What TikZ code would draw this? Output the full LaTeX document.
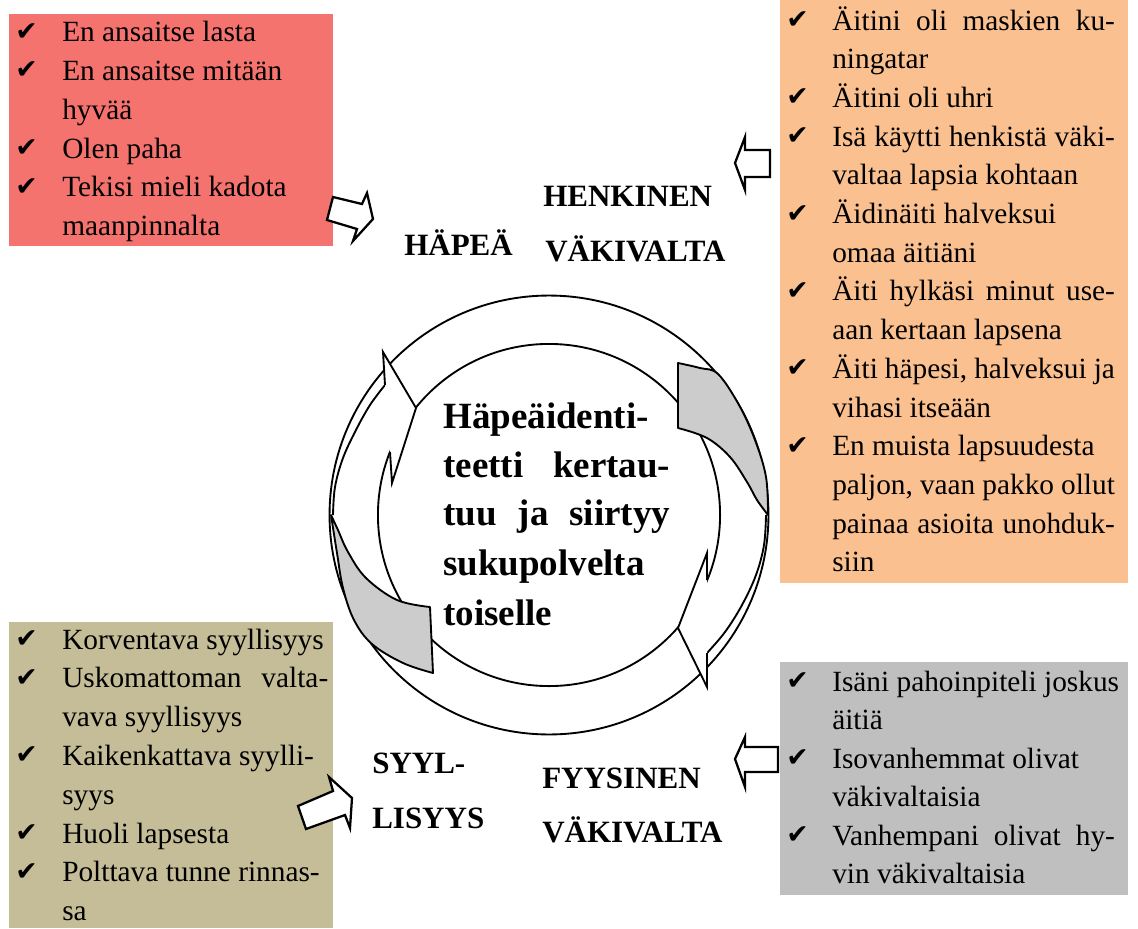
\documentclass[tikz,border=0pt]{standalone}
\usepackage{fontspec}
\setmainfont{Liberation Serif}
\newfontfamily\chkfont{DejaVu Sans}
\definecolor{boxred}{RGB}{245,115,110}
\definecolor{boxorange}{RGB}{250,192,144}
\definecolor{boxkhaki}{RGB}{196,189,151}
\definecolor{boxgray}{RGB}{191,191,191}
\definecolor{ringgray}{RGB}{204,204,204}
\newcommand{\jl}[1]{\makebox[212pt][s]{#1}}
\newcommand{\ck}{✔}
\begin{document}
\begin{tikzpicture}[x=0.75pt,y=-0.75pt,
  boxtxt/.style={anchor=base west,inner sep=0pt,font=\fontsize{22}{26}\selectfont},
  chk/.style={anchor=base west,inner sep=0pt,font=\chkfont\fontsize{20}{22}\selectfont},
  lbl/.style={anchor=base west,inner sep=0pt,font=\bfseries\fontsize{23.25}{28}\selectfont},
  ctr/.style={anchor=base west,inner sep=0pt,font=\bfseries\fontsize{27.75}{32}\selectfont},
  ring/.style={draw=black,line width=1.4pt},
  graypart/.style={draw=black,fill=ringgray,line width=1.4pt,line join=round},
  headpart/.style={draw=black,line width=1.4pt,line join=miter},
  blockarrow/.style={draw=black,fill=white,line width=1.7pt,line join=miter}]
\useasboundingbox (0,0) rectangle (1138,928);

% coloured boxes
\fill[boxred] (9,14) rectangle (333,246);
\fill[boxorange] (780,0) rectangle (1128,583);
\fill[boxkhaki] (9,622) rectangle (333,928);
\fill[boxgray] (780,662) rectangle (1128,895);

% red box text
\foreach \t [count=\i] in {{En ansaitse lasta},{En ansaitse mitään},{hyvää},{Olen paha},{Tekisi mieli kadota},{maanpinnalta}}
  \node[boxtxt] (rd\i) at (62,{41.7+(\i-1)*38.8}) {\t};
\foreach \i in {1,2,4,5}
  \node[chk] (rdc\i) at (15,{40+(\i-1)*38.8}) {\ck};

% orange box text
\foreach \t [count=\i] in {{\jl{Äitini oli maskien ku-}},{ningatar},{Äitini oli uhri},{\jl{Isä käytti henkistä väki-}},{valtaa lapsia kohtaan},{Äidinäiti halveksui},{omaa äitiäni},{\jl{Äiti hylkäsi minut use-}},{aan kertaan lapsena},{\jl{Äiti häpesi, halveksui ja}},{vihasi itseään},{En muista lapsuudesta},{\jl{paljon, vaan pakko ollut}},{\jl{painaa asioita unohduk-}},{siin}}
  \node[boxtxt] (or\i) at (832,{30+(\i-1)*38.7}) {\t};
\foreach \i in {1,3,4,6,8,10,12}
  \node[chk] (orc\i) at (786,{28.5+(\i-1)*38.7}) {\ck};

% khaki box text
\foreach \t [count=\i] in {{Korventava syyllisyys},{\makebox[199.5pt][s]{Uskomattoman valta-}},{vava syyllisyys},{Kaikenkattava syylli-},{syys},{Huoli lapsesta},{Polttava tunne rinnas-},{sa}}
  \node[boxtxt] (kh\i) at (62,{649+(\i-1)*38.8}) {\t};
\foreach \i in {1,2,4,6,7}
  \node[chk] (khc\i) at (15,{647.5+(\i-1)*38.8}) {\ck};

% gray box text
\foreach \t [count=\i] in {{Isäni pahoinpiteli joskus},{äitiä},{Isovanhemmat olivat},{väkivaltaisia},{\jl{Vanhempani olivat hy-}},{vin väkivaltaisia}}
  \node[boxtxt] (gr\i) at (832,{691+(\i-1)*38.5}) {\t};
\foreach \i in {1,3,5}
  \node[chk] (grc\i) at (786,{689.5+(\i-1)*38.5}) {\ck};

% labels
\node[lbl] (hapea) at (404,255) {HÄPEÄ};
\node[lbl] (henk1) at (543,206.7) {HENKINEN};
\node[lbl] (henk2) at (545,261.7) {VÄKIVALTA};
\node[lbl] (syyl1) at (372,773) {SYYL-};
\node[lbl] (syyl2) at (372,828) {LISYYS};
\node[lbl] (fyys1) at (542,788) {FYYSINEN};
\node[lbl] (fyys2) at (542,842) {VÄKIVALTA};

% cycle: rings
\coordinate (C) at (549,515);
\draw[ring] (C) circle[radius=164.6pt];
\draw[ring] (C) circle[radius=128.3pt];

% ribbon edges
\draw[ring] plot[smooth,tension=0.6] coordinates {(766,515) (764,545) (756,575) (742,605) (725,632) (707,653)};
\draw[ring] plot[smooth,tension=0.6] coordinates {(333,515) (335,487) (343,458) (356,430) (370,405) (385,385)};

% gray back parts
\draw[graypart] (678,428) -- (678,363)
  -- plot[smooth,tension=0.6] coordinates {(678,363) (700,368) (718,374) (739,405) (755,440) (766,477) (768,515)}
  -- plot[smooth,tension=0.6] coordinates {(768,515) (757,500) (747,482) (730,457) (707,438) (678,428)} -- cycle;
\draw[graypart] (430,607) -- (433,673)
  -- plot[smooth,tension=0.6] coordinates {(433,673) (403,663) (372,644) (354,620) (343,588) (337,553) (331,515)}
  -- plot[smooth,tension=0.6] coordinates {(331,515) (338,530) (348,552) (366,578) (397,600) (430,607)} -- cycle;

% arrow heads
\fill[white] (707,553) -- (678,628) -- (707,687) -- cycle;
\draw[headpart] (707,580) -- (707,553) -- (678,628) -- (707,687) -- (707,653);
\fill[white] (383,352) -- (416,408) -- (392,483) -- cycle;
\draw[headpart] (385,385) -- (383,352) -- (416,408) -- (392,483) -- (390,452);

% centre text
\node[ctr] (c1) at (443,428) {Häpeäidenti-};
\node[ctr] (c2) at (443,477) {\makebox[170.25pt][s]{teetti kertau-}};
\node[ctr] (c3) at (443,525) {\makebox[170.25pt][s]{tuu ja siirtyy}};
\node[ctr] (c4) at (443,575) {sukupolvelta};
\node[ctr] (c5) at (443,625) {toiselle};

% block arrows
\draw[blockarrow] (327,220) -- (333,197) -- (362,204) -- (367,193) -- (373,219) -- (353,241) -- (357,229) -- cycle;
\draw[blockarrow] (735,163) -- (745,137) -- (745,150) -- (770,150) -- (770,177) -- (745,177) -- (745,190) -- cycle;
\draw[blockarrow] (735,759) -- (745,737) -- (745,747) -- (778,747) -- (778,772) -- (745,772) -- (745,787) -- cycle;
\draw[blockarrow] (298,806) -- (333,791) -- (329,777) -- (352,798) -- (350,828) -- (345,815) -- (306,829) -- cycle;
\end{tikzpicture}
\end{document}
